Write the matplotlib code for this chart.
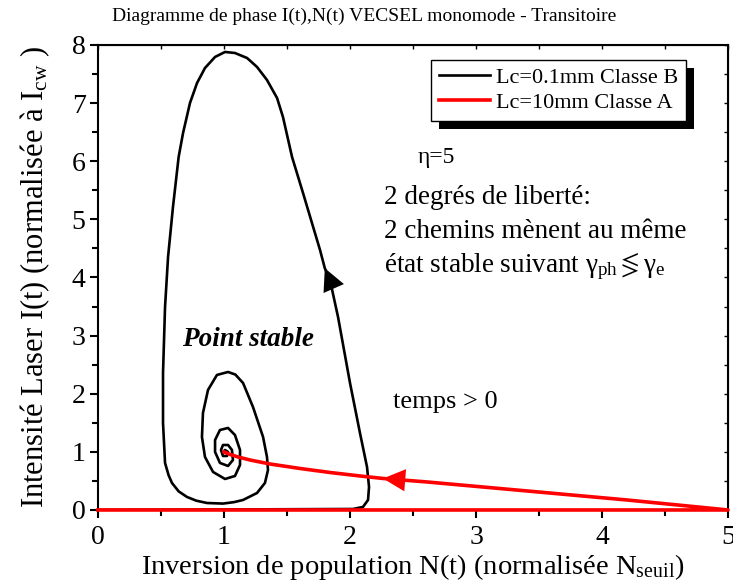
import matplotlib

matplotlib.use("Agg")
import matplotlib.pyplot as plt
from matplotlib.patches import Rectangle
from matplotlib.ticker import MultipleLocator

# Trajectoire classe B (Lc=0.1mm): (N, I)
BLACK_N = [0.0, 2.024, 2.103, 2.143, 2.151, 2.135, 2.079, 2.000, 1.905, 1.841,
           1.800, 1.762, 1.627, 1.540, 1.468, 1.421, 1.341, 1.262, 1.183, 1.087,
           1.008, 0.929, 0.849, 0.786, 0.730, 0.675, 0.640, 0.595, 0.556, 0.532,
           0.516, 0.516, 0.532, 0.560, 0.587, 0.640, 0.706, 0.780, 0.865, 0.992,
           1.080, 1.151, 1.262, 1.325, 1.349, 1.341, 1.310, 1.230, 1.151, 1.090,
           1.032, 0.944, 0.873, 0.833, 0.825, 0.849, 0.913, 1.008, 1.087, 1.127,
           1.127, 1.087, 1.032, 0.968, 0.929, 0.929, 0.968, 1.032, 1.071, 1.063,
           1.032, 0.992, 0.976, 0.992, 1.024, 1.032, 1.008, 1.0]
BLACK_I = [0.0, 0.017, 0.052, 0.172, 0.396, 0.740, 1.325, 2.185, 3.320, 3.957,
           4.160, 4.473, 5.454, 6.073, 6.761, 7.088, 7.398, 7.622, 7.776, 7.862,
           7.880, 7.794, 7.604, 7.346, 7.002, 6.486, 6.073, 5.213, 4.353, 3.492,
           2.357, 1.497, 0.809, 0.600, 0.465, 0.320, 0.224, 0.160, 0.120, 0.110,
           0.135, 0.172, 0.292, 0.465, 0.688, 0.912, 1.256, 1.772, 2.185, 2.330,
           2.374, 2.323, 2.065, 1.669, 1.256, 0.912, 0.654, 0.533, 0.585, 0.774,
           1.032, 1.290, 1.411, 1.376, 1.204, 0.998, 0.809, 0.757, 0.860, 1.032,
           1.118, 1.118, 1.032, 0.929, 0.929, 0.998, 1.032, 1.0]
BLACK_ARROW = 10  # indice de la pointe de fleche

# Trajectoire classe A (Lc=10mm)
RED_N = [0.0, 5.0, 4.198, 3.405, 2.611, 2.262, 2.079, 1.841, 1.603, 1.365,
         1.206, 1.111, 1.048, 1.0]
RED_I = [0.0, 0.0, 0.172, 0.327, 0.482, 0.542, 0.585, 0.645, 0.714, 0.791,
         0.860, 0.912, 0.955, 1.0]
RED_ARROW = 5

plt.rcParams["font.family"] = ["Liberation Serif", "DejaVu Serif"]
plt.rcParams["mathtext.fontset"] = "custom"
plt.rcParams["mathtext.rm"] = "Liberation Serif"
plt.rcParams["mathtext.it"] = "Liberation Serif:italic"

fig = plt.figure(figsize=(7.33, 5.88), dpi=100)
ax = fig.add_axes([0.1337, 0.1327, 0.8595, 0.7908])

ax.plot(BLACK_N, BLACK_I, color="black", lw=1.9, solid_joinstyle="round",
        label="Lc=0.1mm Classe B", zorder=3)
ax.plot(RED_N, RED_I, color="red", lw=2.6, solid_joinstyle="round",
        label="Lc=10mm Classe A", clip_on=False, zorder=4)

for xs, ys, k, col in [(BLACK_N, BLACK_I, BLACK_ARROW, "black"),
                       (RED_N, RED_I, RED_ARROW, "red")]:
    ax.annotate("", xy=(xs[k], ys[k]), xytext=(xs[k - 1], ys[k - 1]),
                arrowprops=dict(arrowstyle="-|>,head_length=0.5,head_width=0.25",
                                color=col, lw=0, shrinkA=0, shrinkB=0,
                                mutation_scale=32), zorder=5)

ax.set_xlim(0, 5)
ax.set_ylim(0, 8)
ax.xaxis.set_major_locator(MultipleLocator(1))
ax.xaxis.set_minor_locator(MultipleLocator(0.5))
ax.yaxis.set_major_locator(MultipleLocator(1))
ax.yaxis.set_minor_locator(MultipleLocator(0.5))
ax.tick_params(which="both", direction="out", width=1.5, labelsize=20)
ax.tick_params(axis="x", pad=5)
ax.tick_params(axis="y", pad=3)
ax.tick_params(which="major", length=6)
ax.tick_params(which="minor", length=4)
for s in ax.spines.values():
    s.set_linewidth(1.5)

# ticks miroirs vers l'interieur, sans etiquettes
top = ax.secondary_xaxis("top")
top.xaxis.set_major_locator(MultipleLocator(1))
top.xaxis.set_minor_locator(MultipleLocator(0.5))
top.tick_params(which="both", direction="in", width=1.0, length=3, labeltop=False)
right = ax.secondary_yaxis("right")
right.yaxis.set_major_locator(MultipleLocator(1))
right.yaxis.set_minor_locator(MultipleLocator(0.5))
right.tick_params(which="both", direction="in", width=1.0, length=3, labelright=False)

ax.set_xlabel(r"Inversion de population N(t) (normalisée N$_{\rm seuil}$)",
              fontsize=20.5, labelpad=1)
ax.set_ylabel(r"Intensité Laser I(t) (normalisée à I$_{\rm cw}$ )",
              fontsize=22, labelpad=14)
fig.text(0.5 * (112 + 617) / 733, 0.972,
         "Diagramme de phase I(t),N(t) VECSEL monomode - Transitoire",
         ha="center", va="center", fontsize=14)

ax.text(2.54, 6.07, "η=5", fontsize=17, va="center")
ax.text(2.27, 5.38, "2 degrés de liberté:", fontsize=19.5, va="center")
ax.text(2.27, 4.79, "2 chemins mènent au même", fontsize=19.5, va="center")
ax.text(2.27, 4.19, r"état stable suivant γ$_{\rm ph}\lessgtr$γ$_{\rm e}$",
        fontsize=19.5, va="center")
ax.text(0.67, 2.93, "Point stable", fontsize=19.5, fontweight="bold",
        fontstyle="italic", va="center")
ax.text(2.34, 1.86, "temps > 0", fontsize=19, va="center")

leg = ax.legend(loc="upper left", bbox_to_anchor=(0.529, 0.968), fontsize=16,
                fancybox=False, frameon=True, edgecolor="black",
                framealpha=1, handlelength=2.3, handletextpad=0.25,
                borderpad=0.35, labelspacing=0.2, borderaxespad=0)
leg.get_frame().set_linewidth(1.0)
leg.set_zorder(10)

fig.canvas.draw()
bb = leg.get_window_extent()
shadow = Rectangle((bb.x0 + 8, bb.y0 - 8), bb.width, bb.height,
                   transform=None, facecolor="black", edgecolor="none",
                   clip_on=False, zorder=9)
ax.add_artist(shadow)

fig.savefig("out.png", dpi=100)
